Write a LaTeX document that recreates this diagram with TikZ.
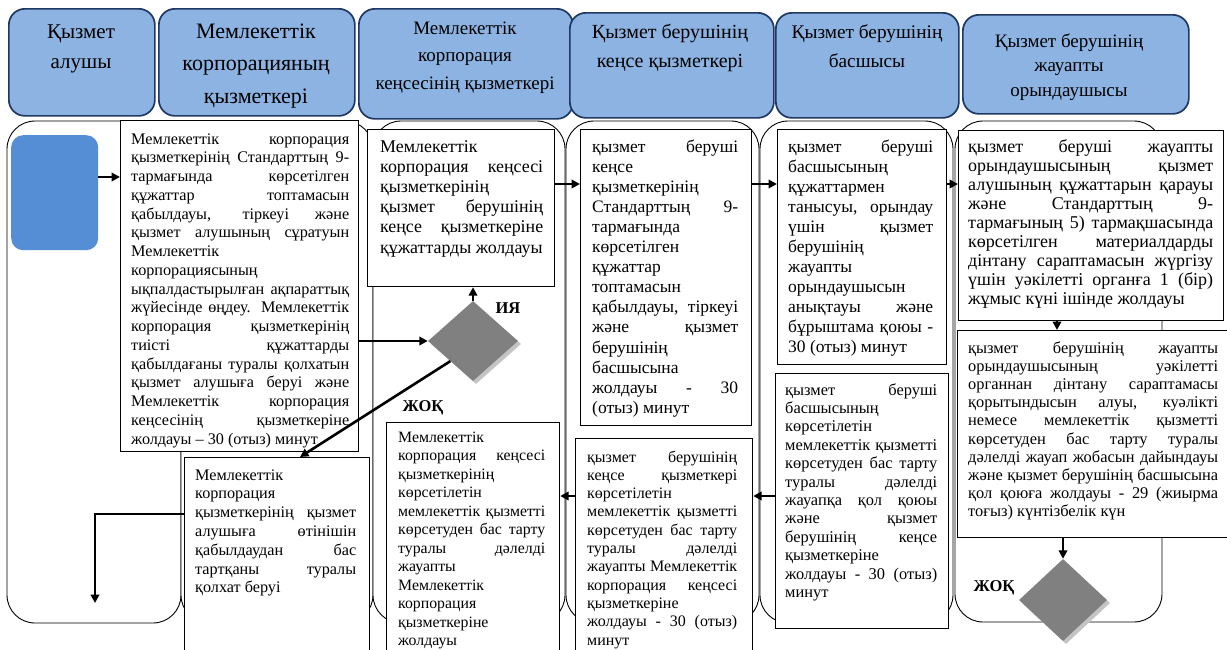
\documentclass[tikz,border=0pt]{standalone}
\usepackage{fontspec}
\setmainfont{Liberation Serif}
\usetikzlibrary{arrows.meta,shapes.geometric}
\definecolor{hdrfill}{HTML}{8DB3E2}
\definecolor{hdrline}{HTML}{1F3864}
\definecolor{bluebox}{HTML}{558ED5}
\definecolor{dgray}{HTML}{808080}
\definecolor{lgray}{HTML}{C4C4C4}
\newcommand\JL[1]{\hbox to \hsize{#1}}
\newcommand\LL[1]{\hbox{#1}}
\newcommand\CL[1]{\hbox to \hsize{\hfil#1\hfil}}
\newcommand\fsz[2]{\fontsize{#1}{#2}\selectfont}
\tikzset{
 hdr/.style={draw=hdrline, line width=1.7pt, fill=hdrfill, rounded corners=16pt, anchor=north west, inner sep=0pt},
 lane/.style={draw=black, line width=0.9pt, fill=white, rounded corners=28pt},
 box/.style={draw=black, line width=1.2pt, fill=white, anchor=north west, inner sep=0pt},
 txt/.style={anchor=base west, inner sep=0pt},
 htxt/.style={anchor=base, inner sep=0pt},
 arr/.style={line width=2.6pt, -{Triangle[length=8.5pt,width=8.5pt]}},
 dia/.style={diamond, fill=dgray, inner sep=0pt, minimum width=90pt, minimum height=80pt},
 diash/.style={dia, fill=lgray},
 lbl/.style={font=\bfseries\fsz{16.5}{19}, inner sep=0pt}
}
\begin{document}
\begin{tikzpicture}[x=1pt,y=-1pt]
\useasboundingbox (0,0) rectangle (1227,649);
\clip (0,0) rectangle (1227,649);
\fill[white] (0,0) rectangle (1227,649);

% swimlanes
\draw[lane] (7,121) rectangle (181,623);
\draw[lane] (181,121) rectangle (373,623);
\draw[lane] (373,121) rectangle (565,623);
\draw[lane] (566,121) rectangle (759,623);
\draw[lane] (760,121) rectangle (953,623);
\draw[lane] (955,121) rectangle (1162,622);

% headers
\node[hdr, minimum width=146pt, minimum height=107pt] (h1) at (8,8) {};
\node[hdr, minimum width=196pt, minimum height=107pt] (h2) at (158,8) {};
\node[hdr, minimum width=214pt, minimum height=110pt] (h3) at (358,8) {};
\node[hdr, minimum width=204pt, minimum height=105pt] (h4) at (569,12) {};
\node[hdr, minimum width=183pt, minimum height=105pt] (h5) at (775,12) {};
\node[hdr, minimum width=226pt, minimum height=99pt] (h6) at (962,14) {};

\node[htxt] (th1) at (81,38) {\parbox[t]{146pt}{\fsz{21}{30}\CL{Қызмет}\CL{алушы}}};
\node[htxt] (th2) at (256,38) {\parbox[t]{196pt}{\fsz{22}{32.5}\CL{Мемлекеттік}\CL{корпорацияның}\CL{қызметкері}}};
\node[htxt] (th3) at (465,34) {\parbox[t]{214pt}{\fsz{19}{27.5}\CL{Мемлекеттік}\CL{корпорация}\CL{кеңсесінің қызметкері}}};
\node[htxt] (th4) at (670,38) {\parbox[t]{204pt}{\fsz{20}{29}\CL{Қызмет берушінің}\CL{кеңсе қызметкері}}};
\node[htxt] (th5) at (867,38) {\parbox[t]{183pt}{\fsz{19.3}{29}\CL{Қызмет берушінің}\CL{басшысы}}};
\node[htxt] (th6) at (1069,47) {\parbox[t]{226pt}{\fsz{19}{24.5}\CL{Қызмет берушінің}\CL{жауапты}\CL{орындаушысы}}};

% start block
\node[fill=bluebox, rounded corners=12pt, anchor=north west, inner sep=0pt, minimum width=87pt, minimum height=115pt] (blue) at (11,135) {};

% process boxes
\node[box, minimum width=238pt, minimum height=331pt] (A) at (120,120) {};
\node[txt] (tA) at (131,144) {\parbox[t]{218pt}{\fsz{16.2}{18.75}%
\JL{Мемлекеттік корпорация}
\JL{қызметкерінің Стандарттың 9-}
\JL{тармағында көрсетілген}
\JL{құжаттар топтамасын}
\JL{қабылдауы, тіркеуі және}
\JL{қызмет алушының сұратуын}
\LL{Мемлекеттік}
\LL{корпорациясының}
\JL{ықпалдастырылған ақпараттық}
\JL{жүйесінде өңдеу. Мемлекеттік}
\JL{корпорация қызметкерінің}
\JL{тиісті құжаттарды}
\JL{қабылдағаны туралы қолхатын}
\JL{қызмет алушыға беруі және}
\JL{Мемлекеттік корпорация}
\JL{кеңсесінің қызметкеріне}
\LL{жолдауы – 30 (отыз) минут}}};

\node[box, minimum width=187pt, minimum height=157pt] (B) at (367,129) {};
\node[txt] (tB) at (380,152) {\parbox[t]{163pt}{\fsz{17.9}{20.2}%
\LL{Мемлекеттік}
\JL{корпорация кеңсесі}
\LL{қызметкерінің}
\JL{қызмет берушінің}
\JL{кеңсе қызметкеріне}
\LL{құжаттарды жолдауы}}};

\node[box, minimum width=185pt, minimum height=210pt] (C) at (184,457) {};
\node[txt] (tC) at (195,480) {\parbox[t]{161pt}{\fsz{16.2}{18.8}%
\LL{Мемлекеттік}
\LL{корпорация}
\JL{қызметкерінің қызмет}
\JL{алушыға өтінішін}
\JL{қабылдаудан бас}
\JL{тартқаны туралы}
\LL{қолхат беруі}}};

\node[box, minimum width=173pt, minimum height=240pt] (D) at (386,422) {};
\node[txt] (tD) at (398,442) {\parbox[t]{147pt}{\fsz{15.8}{18.5}%
\LL{Мемлекеттік}
\JL{корпорация кеңсесі}
\LL{қызметкерінің}
\LL{көрсетілетін}
\JL{мемлекеттік қызметті}
\JL{көрсетуден бас тарту}
\JL{туралы дәлелді}
\LL{жауапты}
\LL{Мемлекеттік}
\LL{корпорация}
\LL{қызметкеріне}
\LL{жолдауы}}};

\node[box, minimum width=171pt, minimum height=296pt] (E) at (580,129) {};
\node[txt] (tE) at (592,152) {\parbox[t]{146pt}{\fsz{17.5}{20.1}%
\JL{қызмет беруші}
\LL{кеңсе}
\LL{қызметкерінің}
\JL{Стандарттың 9-}
\LL{тармағында}
\LL{көрсетілген}
\LL{құжаттар}
\LL{топтамасын}
\JL{қабылдауы, тіркеуі}
\JL{және қызмет}
\LL{берушінің}
\LL{басшысына}
\JL{жолдауы - 30}
\LL{(отыз) минут}}};

\node[box, minimum width=177pt, minimum height=225pt] (F) at (575,438) {};
\node[txt] (tF) at (587,462) {\parbox[t]{150pt}{\fsz{16}{18.3}%
\JL{қызмет берушінің}
\JL{кеңсе қызметкері}
\LL{көрсетілетін}
\JL{мемлекеттік қызметті}
\JL{көрсетуден бас тарту}
\JL{туралы дәлелді}
\JL{жауапты Мемлекеттік}
\JL{корпорация кеңсесі}
\LL{қызметкеріне}
\JL{жолдауы - 30 (отыз)}
\LL{минут}}};

\node[box, minimum width=169pt, minimum height=235pt] (G) at (777,129) {};
\node[txt] (tG) at (788,152) {\parbox[t]{145pt}{\fsz{17.5}{20}%
\JL{қызмет беруші}
\LL{басшысының}
\LL{құжаттармен}
\JL{танысуы, орындау}
\JL{үшін қызмет}
\LL{берушінің}
\LL{жауапты}
\LL{орындаушысын}
\JL{анықтауы және}
\JL{бұрыштама қоюы -}
\LL{30 (отыз) минут}}};

\node[box, minimum width=173pt, minimum height=255pt] (H) at (775,373) {};
\node[txt] (tH) at (785,395) {\parbox[t]{152pt}{\fsz{16.4}{18.4}%
\JL{қызмет беруші}
\LL{басшысының}
\LL{көрсетілетін}
\JL{мемлекеттік қызметті}
\JL{көрсетуден бас тарту}
\JL{туралы дәлелді}
\JL{жауапқа қол қоюы}
\JL{және қызмет}
\JL{берушінің кеңсе}
\LL{қызметкеріне}
\JL{жолдауы - 30 (отыз)}
\LL{минут}}};

\node[box, minimum width=265pt, minimum height=190pt] (I) at (958,130) {};
\node[txt] (tI) at (968,152) {\parbox[t]{245pt}{\fsz{18}{19.1}%
\JL{қызмет беруші жауапты}
\JL{орындаушысының қызмет}
\JL{алушының құжаттарын қарауы}
\JL{және Стандарттың 9-}
\JL{тармағының 5) тармақшасында}
\JL{көрсетілген материалдарды}
\JL{дінтану сараптамасын жүргізу}
\JL{үшін уәкілетті органға 1 (бір)}
\LL{жұмыс күні ішінде жолдауы}}};

\node[box, minimum width=270pt, minimum height=207pt] (J) at (957,330) {};
\node[txt] (tJ) at (968,353) {\parbox[t]{250pt}{\fsz{16.4}{18.2}%
\JL{қызмет берушінің жауапты}
\JL{орындаушысының уәкілетті}
\JL{органнан дінтану сараптамасы}
\JL{қорытындысын алуы, куәлікті}
\JL{немесе мемлекеттік қызметті}
\JL{көрсетуден бас тарту туралы}
\JL{дәлелді жауап жобасын дайындауы}
\JL{және қызмет берушінің басшысына}
\JL{қол қоюға жолдауы - 29 (жиырма}
\LL{тоғыз) күнтізбелік күн}}};

% decisions
\node[diash] (d1s) at (476,344) {};
\node[dia] (d1) at (473,341) {};
\node[diash, minimum width=88pt, minimum height=82pt] (d2s) at (1066,603) {};
\node[dia, minimum width=88pt, minimum height=82pt] (d2) at (1063,600) {};

\node[lbl] (lya) at (508,308) {ИЯ};
\node[lbl] (lno1) at (423,408) {ЖОҚ};
\node[lbl] (lno2) at (994,588) {ЖОҚ};

% connectors
\coordinate (yA) at (0,177);
\coordinate (yR) at (0,184);
\coordinate (yC) at (0,514);
\coordinate (yHF) at (0,496);
\coordinate (xC) at (300,0);
\coordinate (xIJ) at (1057,0);
\coordinate (cEnd) at (95,603);

\draw[arr] (blue.east |- yA) -- (A.west |- yA);
\draw[arr] (A.east |- d1.west) -- (d1.west);
\draw[arr] (d1.north) -- (d1.north |- B.south);
\draw[arr] (d1.south west) -- (C.north -| xC);
\draw[arr] (C.west |- yC) -| (cEnd);
\draw[arr] (B.east |- yR) -- (E.west |- yR);
\draw[arr] (E.east |- yR) -- (G.west |- yR);
\draw[arr] (G.east |- yR) -- (I.west |- yR);
\draw[arr] (I.south -| xIJ) -- (J.north -| xIJ);
\draw[arr] (J.south -| d2.north) -- (d2.north);
\draw[arr] (H.west |- yHF) -- (F.east |- yHF);
\draw[arr] (F.west |- yHF) -- (D.east |- yHF);
\end{tikzpicture}
\end{document}
